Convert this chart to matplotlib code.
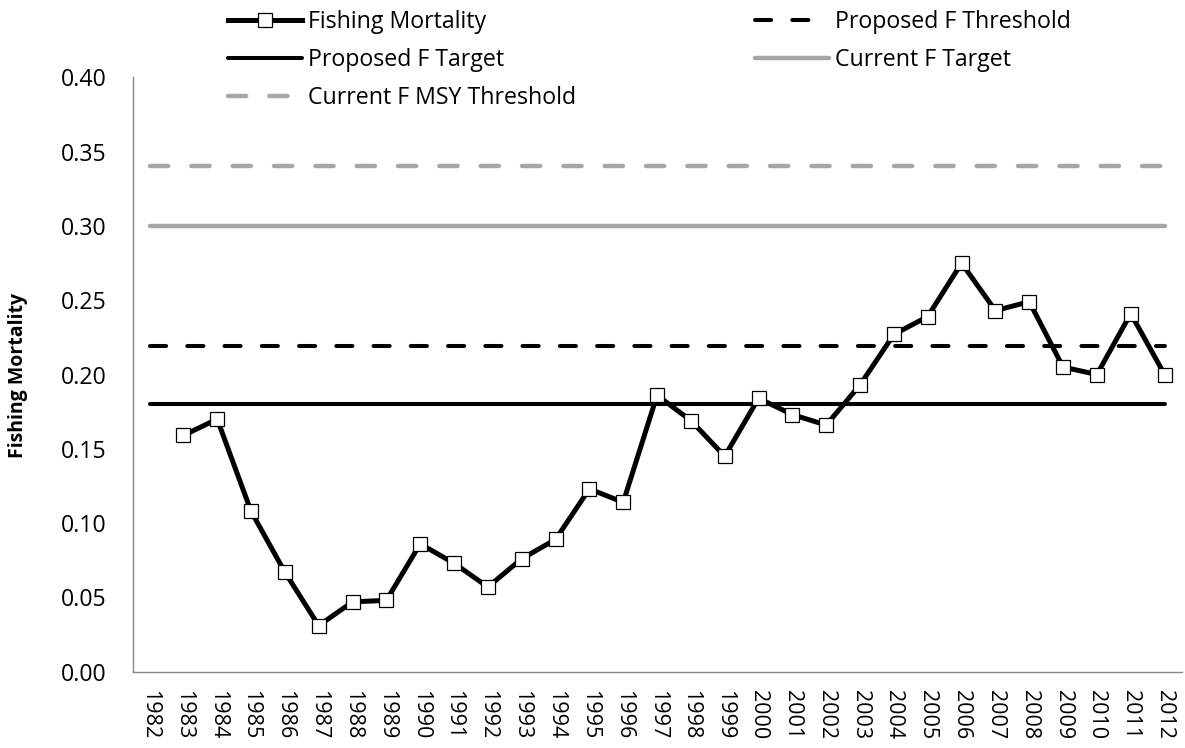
import matplotlib
matplotlib.use('Agg')
import matplotlib.pyplot as plt
import numpy as np

# Chart data
years = ['1982', '1983', '1984', '1985', '1986', '1987', '1988', '1989',
         '1990', '1991', '1992', '1993', '1994', '1995', '1996', '1997',
         '1998', '1999', '2000', '2001', '2002', '2003', '2004', '2005',
         '2006', '2007', '2008', '2009', '2010', '2011', '2012']
fishing_mortality = [np.nan, 0.159, 0.170, 0.108, 0.067, 0.031, 0.047, 0.048,
                     0.086, 0.073, 0.057, 0.076, 0.089, 0.123, 0.114, 0.186,
                     0.169, 0.145, 0.184, 0.173, 0.166, 0.193, 0.227, 0.239,
                     0.275, 0.243, 0.249, 0.205, 0.200, 0.241, 0.200]
proposed_f_target = 0.18
proposed_f_threshold = 0.219
current_f_target = 0.30
current_msy_threshold = 0.34
y_ticks = [0.00, 0.05, 0.10, 0.15, 0.20, 0.25, 0.30, 0.35, 0.40]

# Styles
grey = '#A6A6A6'
spine_grey = '#868686'
W, H = 1185, 748


def main():
    plt.rcParams['font.family'] = ['Open Sans', 'DejaVu Sans']

    fig = plt.figure(figsize=(W / 100, H / 100), dpi=100)
    ax = fig.add_axes([132.6 / W, 1 - 671.7 / H, 1048.9 / W, 594.4 / H])

    x = np.arange(len(years))
    n = len(years)

    # Reference lines drawn as constant series (like the spreadsheet)
    h_msy, = ax.plot(x, [current_msy_threshold] * n, color=grey, lw=3.2,
                     linestyle=(0, (4.1, 5.2)), dash_capstyle='round',
                     solid_capstyle='round', zorder=2)
    h_ct, = ax.plot(x, [current_f_target] * n, color=grey, lw=3.2,
                    solid_capstyle='round', zorder=2)
    h_pthr, = ax.plot(x, [proposed_f_threshold] * n, color='black', lw=2.9,
                      linestyle=(0, (4, 5.25)), dash_capstyle='round',
                      zorder=2)
    h_pt, = ax.plot(x, [proposed_f_target] * n, color='black', lw=2.9,
                    solid_capstyle='round', zorder=2)

    # Fishing mortality series on top
    h_fm, = ax.plot(x, fishing_mortality, color='black', lw=3.6,
                    marker='s', markersize=9.5, markerfacecolor='white',
                    markeredgecolor='black', markeredgewidth=0.9,
                    solid_joinstyle='round', zorder=3)

    # Axes formatting
    ax.set_xlim(-0.5, n - 0.5)
    ax.set_ylim(0, 0.4)
    ax.set_xticks(x)
    ax.set_xticklabels(years, rotation=-90, fontsize=15.5, va='top', ha='center')
    ax.set_yticks(y_ticks)
    ax.set_yticklabels(['%.2f' % v for v in y_ticks], fontsize=16.7)
    ax.tick_params(axis='x', length=0, pad=13)
    ax.tick_params(axis='y', length=0, pad=18.7)
    for side in ['top', 'right']:
        ax.spines[side].set_visible(False)
    for side in ['left', 'bottom']:
        ax.spines[side].set_color(spine_grey)
        ax.spines[side].set_linewidth(1.0)

    fig.text(18 / W, 1 - 375 / H, 'Fishing Mortality', rotation=90,
             fontsize=14, fontweight='bold', ha='center', va='center')

    # Legend in two columns, laid out as two legends
    common = dict(loc='upper left', frameon=False, borderpad=0,
                  handlelength=3.2, handletextpad=0.27, labelspacing=0.6,
                  fontsize=16.7, borderaxespad=0)
    fig.legend([h_fm, h_pt, h_msy],
               ['Fishing Mortality', 'Proposed F Target',
                'Current F MSY Threshold'],
               bbox_to_anchor=(228 / W, 1 - 10 / H), **common)
    fig.legend([h_pthr, h_ct],
               ['Proposed F Threshold', 'Current F Target'],
               bbox_to_anchor=(755 / W, 1 - 10 / H), **common)

    fig.savefig('out.png', dpi=100)


if __name__ == '__main__':
    main()
